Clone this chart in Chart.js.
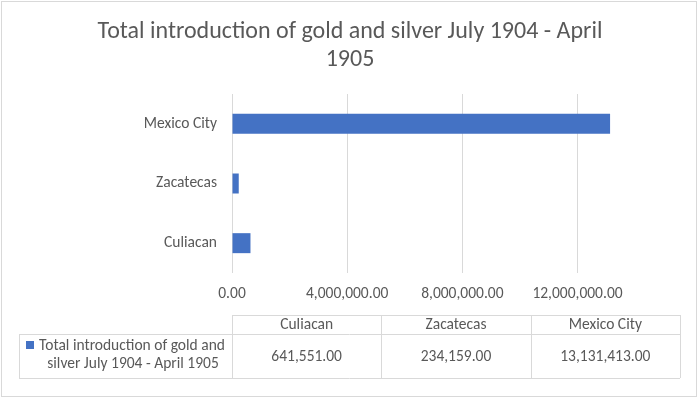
<!DOCTYPE html>
<html>
<head>
<meta charset="utf-8">
<script src="https://cdn.jsdelivr.net/npm/chart.js@4"></script>
<style>
  html, body { margin: 0; padding: 0; background: #ffffff; }
  #wrap { width: 700px; height: 398px; position: relative; }
</style>
</head>
<body>
<div id="wrap"><canvas id="c" width="700" height="398"></canvas></div>
<script>
const titleLines = ['Total introduction of gold and silver July 1904 - April', '1905'];
const categories = ['Culiacan', 'Zacatecas', 'Mexico City'];
const seriesName = 'Total introduction of gold and silver July 1904 - April 1905';
const seriesLegendLines = ['Total introduction of gold and', 'silver July 1904 - April 1905'];
const values = [641551.00, 234159.00, 13131413.00];
const tableLabels = ['641,551.00', '234,159.00', '13,131,413.00'];
const xTicks = [0, 4000000, 8000000, 12000000];

const FONT = "Carlito, Calibri, Lato, 'Open Sans', sans-serif";
const TEXT = '#595959';
const GRID = '#D9D9D9';
const BAR = '#4472C4';

function fmt(v) {
  return v.toLocaleString('en-US', { minimumFractionDigits: 2, maximumFractionDigits: 2 });
}

const tablePlugin = {
  id: 'dataTable',
  afterDraw(chart) {
    const ctx = chart.ctx;
    const x = chart.scales.x;
    const left = x.left, right = x.right;
    const colW = (right - left) / categories.length;
    const hTop = 315, rowTop = 334, rowBot = 378, legLeft = 19;
    ctx.save();
    ctx.strokeStyle = GRID;
    ctx.lineWidth = 1;
    ctx.strokeRect(1.5, 1.5, 695, 395);
    ctx.beginPath();
    ctx.moveTo(left, hTop + 0.5); ctx.lineTo(right, hTop + 0.5);
    ctx.moveTo(legLeft, rowTop + 0.5); ctx.lineTo(right, rowTop + 0.5);
    ctx.moveTo(legLeft, rowBot + 0.5); ctx.lineTo(right, rowBot + 0.5);
    ctx.moveTo(legLeft + 0.5, rowTop); ctx.lineTo(legLeft + 0.5, rowBot);
    for (let i = 0; i <= categories.length; i++) {
      const cx = Math.round(left + i * colW) + 0.5;
      ctx.moveTo(cx, hTop); ctx.lineTo(cx, rowBot);
    }
    ctx.stroke();
    ctx.fillStyle = TEXT;
    ctx.font = '15.5px ' + FONT;
    ctx.textAlign = 'center';
    ctx.textBaseline = 'middle';
    for (let i = 0; i < categories.length; i++) {
      const cx = left + (i + 0.5) * colW;
      ctx.fillText(categories[i], cx, (hTop + rowTop) / 2 + 1);
      ctx.fillText(tableLabels[i], cx, (rowTop + rowBot) / 2 + 1);
    }
    ctx.fillStyle = BAR;
    ctx.fillRect(26, 341, 8, 8);
    ctx.fillStyle = TEXT;
    ctx.fillText(seriesLegendLines[0], 132, 346);
    ctx.fillText(seriesLegendLines[1], 133, 364);
    ctx.restore();
  }
};

new Chart(document.getElementById('c'), {
  type: 'bar',
  data: {
    labels: categories,
    datasets: [{
      label: seriesName,
      data: values,
      backgroundColor: BAR,
      borderWidth: 0,
      categoryPercentage: 1,
      barPercentage: 0.335
    }]
  },
  options: {
    indexAxis: 'y',
    responsive: false,
    animation: false,
    devicePixelRatio: 1,
    layout: { padding: { left: 20, right: 20, top: 0, bottom: 85 } },
    plugins: {
      legend: { display: false },
      tooltip: { enabled: false },
      title: {
        display: true,
        text: titleLines,
        color: TEXT,
        font: { family: FONT, size: 24, weight: 'normal', lineHeight: 28 / 24 },
        padding: { top: 18, bottom: 20 }
      }
    },
    scales: {
      x: {
        min: 0,
        max: 15560000,
        afterBuildTicks(scale) {
          scale.ticks = xTicks.map(v => ({ value: v }));
        },
        afterFit(scale) { scale.height = 40; },
        grid: { color: GRID, drawTicks: false },
        border: { display: false },
        ticks: {
          color: TEXT,
          font: { family: FONT, size: 15.5 },
          padding: 12,
          maxRotation: 0,
          autoSkip: false,
          callback: v => fmt(v)
        }
      },
      y: {
        reverse: true,
        afterFit(scale) { scale.width = 212; },
        grid: { display: false, drawTicks: false },
        border: { display: false },
        ticks: {
          color: TEXT,
          font: { family: FONT, size: 15.5 },
          padding: 15
        }
      }
    }
  },
  plugins: [tablePlugin]
});
</script>
</body>
</html>
